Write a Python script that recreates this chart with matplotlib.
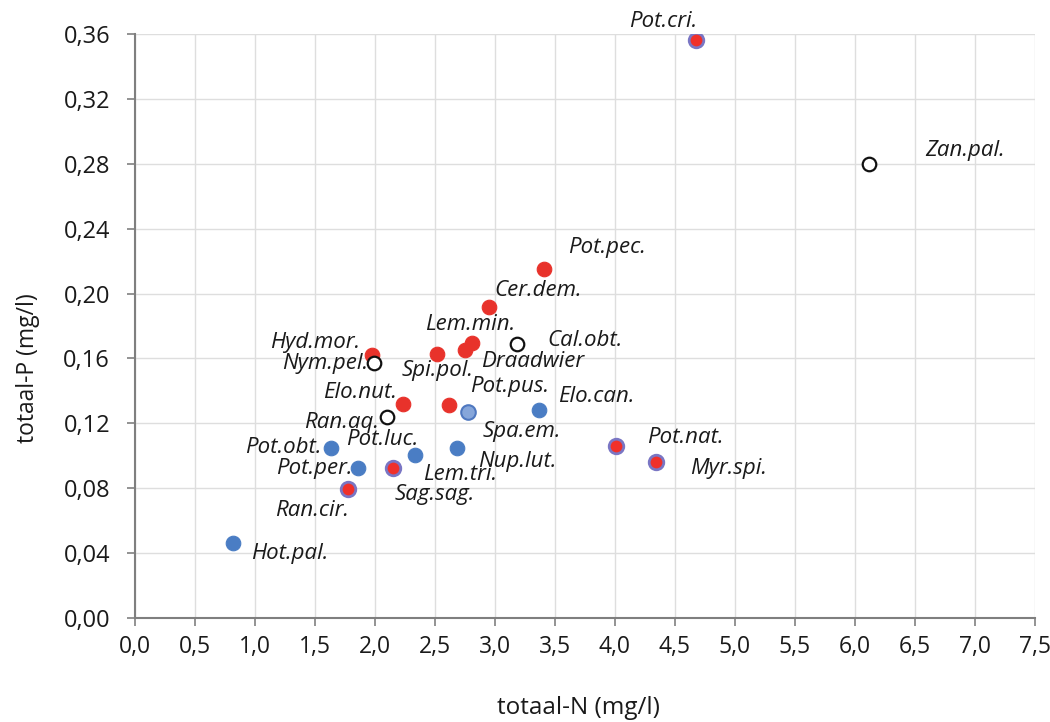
import matplotlib.pyplot as plt
from matplotlib.ticker import FuncFormatter, MultipleLocator

# totaal-N (mg/l) and totaal-P (mg/l) per group
red_names = ["Pot.pec.", "Cer.dem.", "Lem.min.", "Draadwier", "Spi.pol.",
             "Hyd.mor.", "Elo.nut.", "Pot.pus."]
red_n = [3.41, 2.95, 2.81, 2.75, 2.52, 1.975, 2.23, 2.62]
red_p = [0.215, 0.192, 0.1695, 0.165, 0.163, 0.162, 0.132, 0.131]

blue_names = ["Hot.pal.", "Pot.obt.", "Pot.per.", "Pot.luc.", "Nup.lut.", "Elo.can."]
blue_n = [0.82, 1.635, 1.86, 2.335, 2.685, 3.37]
blue_p = [0.046, 0.105, 0.0925, 0.1005, 0.105, 0.128]

lightblue_names = ["Spa.em."]
lightblue_n = [2.775]
lightblue_p = [0.127]

mixed_names = ["Pot.cri.", "Pot.nat.", "Myr.spi.", "Sag.sag.", "Ran.cir."]
mixed_n = [4.675, 4.01, 4.34, 2.15, 1.775]
mixed_p = [0.356, 0.106, 0.096, 0.0925, 0.0795]

open_names = ["Zan.pal.", "Cal.obt.", "Nym.pel.", "Ran.aq."]
open_n = [6.12, 3.185, 1.99, 2.10]
open_p = [0.280, 0.169, 0.157, 0.124]

# label offsets in pixels (dx, dy)
offsets = {
    "Pot.cri.": (-33, 19), "Zan.pal.": (96, 13), "Pot.pec.": (63, 22),
    "Cer.dem.": (49, 16), "Lem.min.": (-2, 19), "Draadwier": (68, -11),
    "Cal.obt.": (68, 3), "Hyd.mor.": (-57, 13), "Nym.pel.": (-49, 0),
    "Spi.pol.": (0, -17), "Elo.nut.": (-43, 11), "Pot.pus.": (60, 19),
    "Elo.can.": (57, 14), "Ran.aq.": (-45, -6), "Spa.em.": (54, -20),
    "Pot.obt.": (-48, 0), "Pot.luc.": (-33, 15), "Nup.lut.": (60, -14),
    "Pot.per.": (-44, -1), "Sag.sag.": (42, -27), "Ran.cir.": (-36, -21),
    "Hot.pal.": (56, -10), "Pot.nat.": (69, 9), "Myr.spi.": (73, -6),
}
# extra label sitting on the Pot.luc. point
extra_labels = [("Lem.tri.", "Pot.luc.", (45, -20))]

plt.rcParams['font.family'] = ['Open Sans', 'DejaVu Sans']

fig = plt.figure(figsize=(10.5, 7.22), dpi=100)
ax = fig.add_axes([0.1286, 0.144, 0.857, 0.809])

ax.scatter(red_n, red_p, s=110, color='#e8322b', edgecolors='#e8322b', linewidths=0.8, zorder=3)
ax.scatter(blue_n, blue_p, s=110, color='#4a7dc4', edgecolors='#4a7dc4', linewidths=0.8, zorder=3)
ax.scatter(lightblue_n, lightblue_p, s=110, color='#86a6da', edgecolors='#4f78c0', linewidths=1.5, zorder=3)
ax.scatter(mixed_n, mixed_p, s=110, color='#f0302a', edgecolors='#7a76c4', linewidths=2, zorder=3)
ax.scatter(open_n, open_p, s=95, color='white', edgecolors='#111111', linewidths=1.6, zorder=3)

points = {}
for names, xs, ys in [(red_names, red_n, red_p), (blue_names, blue_n, blue_p),
                      (lightblue_names, lightblue_n, lightblue_p),
                      (mixed_names, mixed_n, mixed_p), (open_names, open_n, open_p)]:
    for name, x, y in zip(names, xs, ys):
        points[name] = (x, y)

labels = [(name, name, offsets[name]) for name in points] + extra_labels
for text, anchor, off in labels:
    ax.annotate(text, points[anchor], xytext=off, textcoords='offset pixels',
                ha='center', va='center', fontsize=16, style='italic',
                color='#1a1a1a', zorder=4)

ax.set_xlim(0, 7.5)
ax.set_ylim(0, 0.36)
ax.xaxis.set_major_locator(MultipleLocator(0.5))
ax.yaxis.set_major_locator(MultipleLocator(0.04))
ax.xaxis.set_major_formatter(FuncFormatter(lambda v, p: f"{v:.1f}".replace('.', ',')))
ax.yaxis.set_major_formatter(FuncFormatter(lambda v, p: f"{v:.2f}".replace('.', ',')))
ax.tick_params(axis='y', labelsize=17, colors='#1a1a1a', length=6, width=1.2,
               direction='out', pad=12)
ax.tick_params(axis='x', labelsize=16.5, colors='#1a1a1a', length=6, width=1.2,
               direction='out', pad=6)
ax.tick_params(axis='both', color='#808080')
ax.grid(True, color='#dedede', linewidth=1, zorder=0)
ax.set_axisbelow(True)
for side in ['top', 'right']:
    ax.spines[side].set_visible(False)
for side in ['left', 'bottom']:
    ax.spines[side].set_color('#7f7f7f')
    ax.spines[side].set_linewidth(1.5)

fig.text(0.027, 0.49, "totaal-P (mg/l)", rotation=90, ha='center', va='center',
         fontsize=16.5, color='#1a1a1a')
fig.text(0.551, 0.02, "totaal-N (mg/l)", ha='center', va='center',
         fontsize=17.5, color='#1a1a1a')

fig.savefig("out.png", dpi=100)
